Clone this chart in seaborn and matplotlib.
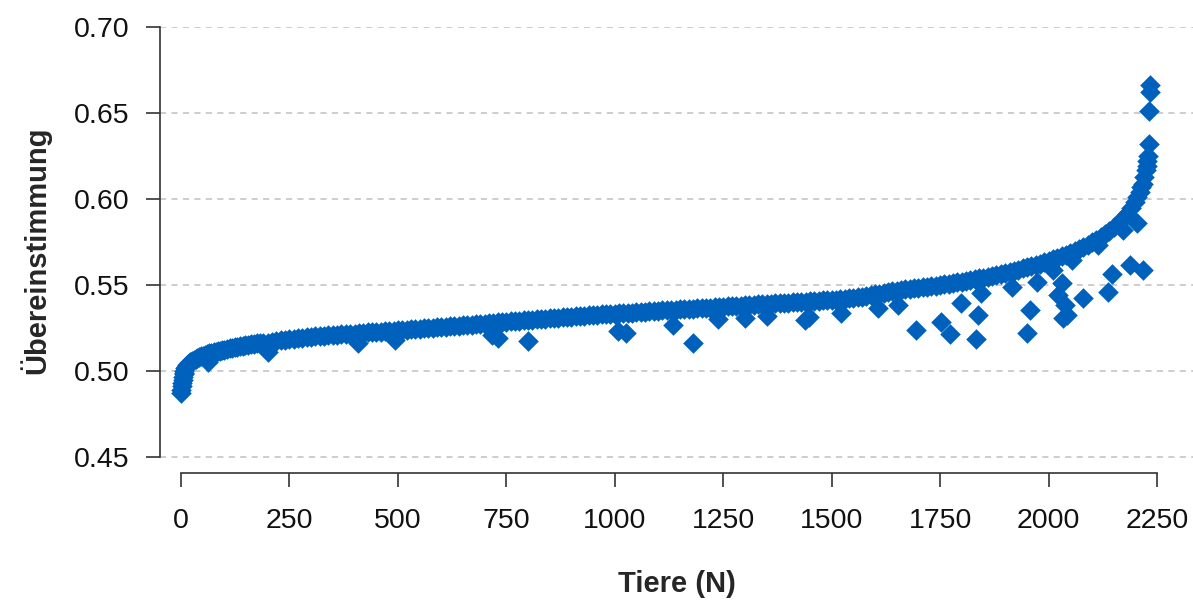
import numpy as np
import pandas as pd
import matplotlib
matplotlib.use('Agg')
import matplotlib.pyplot as plt
import seaborn as sns

# sorted agreement values
# steep start of the curve (rank, agreement)
start_rank = [0, 1, 2, 3, 4, 5, 6, 7, 8, 10, 12, 14, 16, 18, 20, 23, 26, 30, 34, 38,
              42, 46, 50, 55, 60, 65, 70, 75, 80, 85, 90, 95, 100, 106, 112, 118,
              124, 130, 136, 142, 148, 155, 162, 169, 176, 183, 190]
start_value = [0.487, 0.489, 0.491, 0.493, 0.495, 0.4965, 0.498, 0.499, 0.500, 0.5015,
               0.5025, 0.5035, 0.504, 0.5045, 0.505, 0.5055, 0.506, 0.5065, 0.507, 0.5075,
               0.508, 0.5085, 0.509, 0.5094, 0.5098, 0.5102, 0.5106, 0.511, 0.5113, 0.5116,
               0.5119, 0.5122, 0.5125, 0.5128, 0.5131, 0.5134, 0.5137, 0.514, 0.5143,
               0.5146, 0.5149, 0.5152, 0.5155, 0.5158, 0.5161, 0.5163, 0.5164]

# flat middle part, one reading every 10 animals from 200 to 2200
mid_value = [
    0.5165, 0.5170, 0.5175, 0.5179, 0.5182, 0.5185, 0.5188, 0.5191, 0.5194, 0.5197,
    0.5200, 0.5202, 0.5204, 0.5206, 0.5207, 0.5209, 0.5211, 0.5213, 0.5214, 0.5216,
    0.5218, 0.5220, 0.5222, 0.5224, 0.5225, 0.5227, 0.5229, 0.5231, 0.5232, 0.5234,
    0.5236, 0.5238, 0.5240, 0.5242, 0.5244, 0.5246, 0.5248, 0.5250, 0.5252, 0.5254,
    0.5256, 0.5258, 0.5260, 0.5262, 0.5264, 0.5266, 0.5268, 0.5270, 0.5272, 0.5274,
    0.5276, 0.5278, 0.5280, 0.5282, 0.5284, 0.5286, 0.5288, 0.5290, 0.5292, 0.5294,
    0.5296, 0.5298, 0.5300, 0.5302, 0.5304, 0.5306, 0.5308, 0.5310, 0.5312, 0.5314,
    0.5316, 0.5318, 0.5320, 0.5322, 0.5323, 0.5325, 0.5327, 0.5329, 0.5330, 0.5332,
    0.5334, 0.5335, 0.5337, 0.5339, 0.5340, 0.5342, 0.5344, 0.5345, 0.5347, 0.5348,
    0.5350, 0.5352, 0.5353, 0.5355, 0.5356, 0.5358, 0.5360, 0.5361, 0.5363, 0.5364,
    0.5366, 0.5368, 0.5369, 0.5371, 0.5372, 0.5374, 0.5376, 0.5377, 0.5379, 0.5380,
    0.5382, 0.5384, 0.5385, 0.5387, 0.5388, 0.5390, 0.5392, 0.5393, 0.5395, 0.5396,
    0.5398, 0.5400, 0.5401, 0.5403, 0.5404, 0.5406, 0.5407, 0.5409, 0.5410, 0.5412,
    0.5413, 0.5415, 0.5418, 0.5420, 0.5423, 0.5425, 0.5428, 0.5431, 0.5435, 0.5440,
    0.5445, 0.5450, 0.5455, 0.5460, 0.5465, 0.5468, 0.5471, 0.5474, 0.5477, 0.5480,
    0.5483, 0.5486, 0.5489, 0.5492, 0.5496, 0.5499, 0.5503, 0.5507, 0.5511, 0.5515,
    0.5519, 0.5523, 0.5528, 0.5533, 0.5538, 0.5543, 0.5549, 0.5554, 0.5560, 0.5565,
    0.5571, 0.5577, 0.5583, 0.5589, 0.5596, 0.5603, 0.5610, 0.5617, 0.5625, 0.5633,
    0.5641, 0.5649, 0.5658, 0.5667, 0.5676, 0.5686, 0.5696, 0.5708, 0.5720, 0.5734,
    0.5748, 0.5764, 0.5780, 0.5797, 0.5815, 0.5835, 0.5855, 0.5882, 0.5915, 0.5948,
    0.5985]
mid_rank = list(range(200, 200 + 10 * len(mid_value), 10))

# steep tail (rank, agreement)
tail_rank = [2205, 2210, 2214, 2218, 2221, 2224, 2226, 2228, 2230, 2231, 2232, 2233, 2234]
tail_value = [0.601, 0.604, 0.607, 0.609, 0.613, 0.617, 0.619, 0.622, 0.625,
              0.632, 0.651, 0.662, 0.666]

# animals that fall below the main curve
outlier_rank = [62, 200, 408, 493, 717, 731, 800, 1008, 1025, 1134, 1180, 1238,
                1300, 1351, 1438, 1448, 1522, 1607, 1653, 1694, 1752, 1772, 1798,
                1832, 1837, 1845, 1915, 1950, 1957, 1973, 2010, 2022, 2030, 2033,
                2037, 2042, 2053, 2080, 2114, 2137, 2146, 2171, 2188, 2203, 2217]
outlier_value = [0.5050, 0.5110, 0.5163, 0.5180, 0.5210, 0.5190, 0.5174, 0.5235, 0.5222,
                 0.5270, 0.5164, 0.5300, 0.5310, 0.5320, 0.5295, 0.5315, 0.5340, 0.5367,
                 0.5384, 0.5237, 0.5283, 0.5216, 0.5396, 0.5187, 0.5327, 0.5455, 0.5490,
                 0.5220, 0.5355, 0.5518, 0.5587, 0.5440, 0.5510, 0.5310, 0.5385, 0.5327,
                 0.5646, 0.5425, 0.5730, 0.5460, 0.5565, 0.5820, 0.5617, 0.5861, 0.5589]

y_ticks = [0.45, 0.50, 0.55, 0.60, 0.65, 0.70]
x_ticks = [0, 250, 500, 750, 1000, 1250, 1500, 1750, 2000, 2250]

df = pd.DataFrame({
    'rank': start_rank + mid_rank + tail_rank + outlier_rank,
    'value': start_value + mid_value + tail_value + outlier_value,
})

sns.set_style('white')
plt.rcParams['font.family'] = ['Liberation Sans', 'DejaVu Sans']

fig = plt.figure(figsize=(11.93, 6.0), dpi=100)
# axes box: left spine at x=160px, bottom spine at y=473px
ax = fig.add_axes([160 / 1193, (600 - 473) / 600, (1193 - 160) / 1193, (473 - 27) / 600])

ax.set_axisbelow(True)
ax.yaxis.grid(True, color='#c0c0c0', linestyle=(0, (4, 3.5)), linewidth=1.1)
ax.xaxis.grid(False)

sns.scatterplot(data=df, x='rank', y='value', marker='D', s=110, color='#0061bc',
                linewidth=0, ax=ax, zorder=3)

ax.set_ylim(0.4407, 0.70)
ax.set_xlim(-48.4, 2333)
ax.set_yticks(y_ticks)
ax.set_yticklabels(['%.2f' % v for v in y_ticks])
ax.set_xticks(x_ticks)
ax.set_xticklabels([str(v) for v in x_ticks])

for side in ['top', 'right']:
    ax.spines[side].set_visible(False)
ax.spines['left'].set_bounds(0.45, 0.70)
ax.spines['bottom'].set_bounds(0, 2250)
for side in ['left', 'bottom']:
    ax.spines[side].set_color('#333333')
    ax.spines[side].set_linewidth(1.2)

ax.tick_params(axis='both', which='major', length=10, width=1.2, color='#333333',
               labelsize=20.5, labelcolor='#111111', bottom=True, left=True)
ax.tick_params(axis='y', pad=12)
ax.tick_params(axis='x', pad=15)

ax.set_xlabel('Tiere (N)', fontsize=21, fontweight='bold', labelpad=26)
ax.set_ylabel('Übereinstimmung', fontsize=21, fontweight='bold', labelpad=16)

fig.savefig('out.png', dpi=100)
